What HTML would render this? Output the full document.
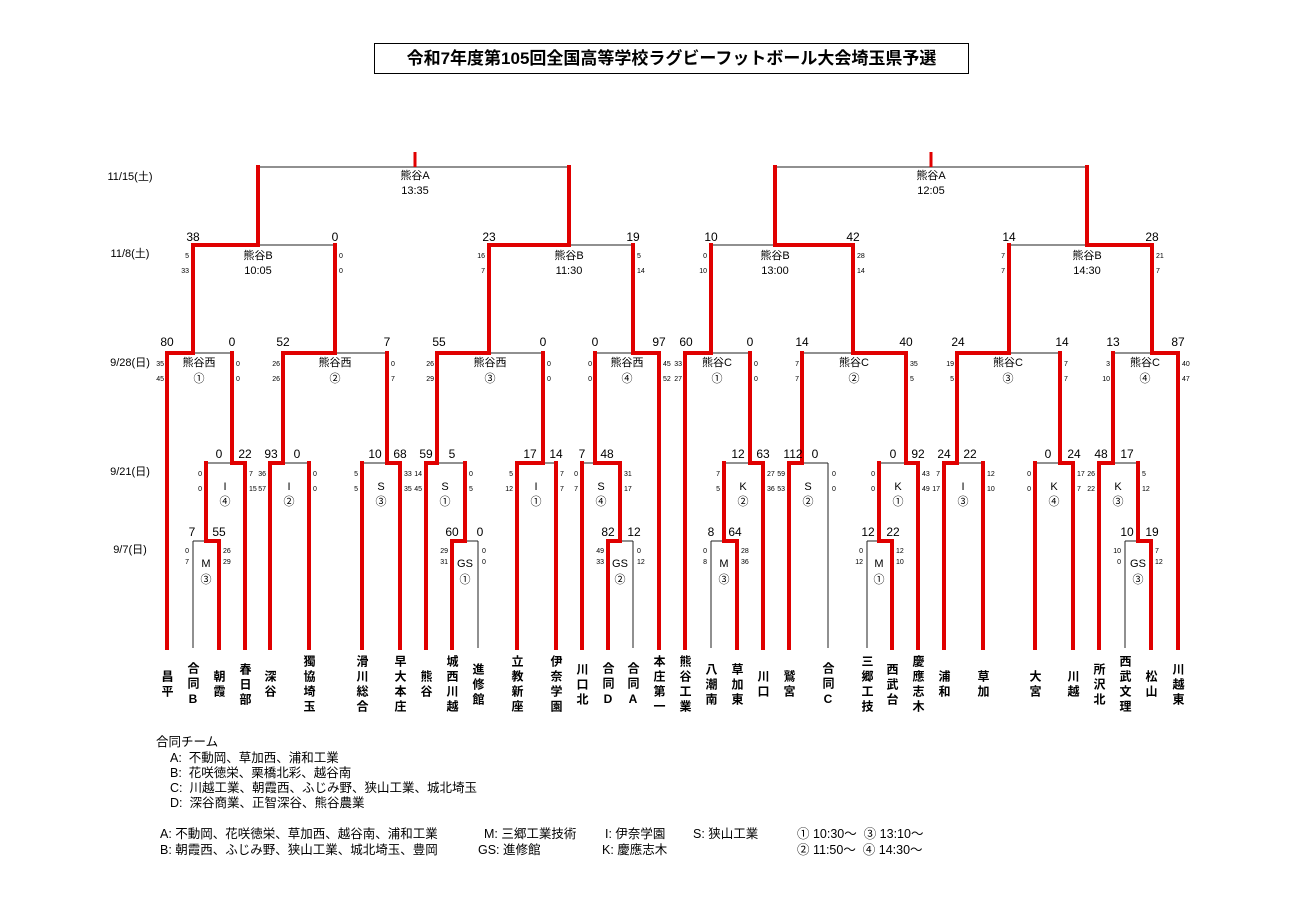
<!DOCTYPE html>
<html><head><meta charset="utf-8"><style>
html,body{margin:0;padding:0;background:#fff;}
body{width:1300px;height:919px;position:relative;overflow:hidden;font-family:"Liberation Sans","Noto Sans CJK JP",sans-serif;}
.title{position:absolute;left:374px;top:43px;width:595px;height:31px;border:1px solid #000;box-sizing:border-box;text-align:center;font-weight:bold;font-size:17px;line-height:29px;}
.leaf{position:absolute;top:652px;height:66px;width:16px;margin-left:-8px;writing-mode:vertical-rl;text-orientation:upright;display:flex;justify-content:center;align-items:center;font-weight:bold;font-size:12px;letter-spacing:3px;line-height:16px;}
.leg{position:absolute;font-size:12.5px;white-space:pre;line-height:14px;}
svg{position:absolute;left:0;top:0;}
svg text{font-family:"Liberation Sans","Noto Sans CJK JP",sans-serif;fill:#000;}
.s{font-size:12px;text-anchor:middle;}
.h{font-size:7px;}
.e{text-anchor:end;}
.m{font-size:11px;text-anchor:middle;}
.d{font-size:11px;text-anchor:middle;}
</style></head><body>
<div class="title">令和7年度第105回全国高等学校ラグビーフットボール大会埼玉県予選</div>
<svg width="1300" height="919" viewBox="0 0 1300 919">
<path fill="none" stroke="#222" stroke-width="1" d="M193 648V541 M478 648V541 M633 648V541 M711 648V541 M828 648V463 M867 648V541 M1125 648V541
M193 541H206 M465 541H478 M620 541H633 M711 541H724 M867 541H879 M1125 541H1138
M206 463H232 M283 463H309 M362 463H387 M437 463H465 M543 463H556 M582 463H595 M724 463H750 M802 463H828 M879 463H906 M957 463H983 M1035 463H1060 M1113 463H1138
M193 353H232 M335 353H387 M489 353H543 M595 353H633 M711 353H750 M802 353H853 M1009 353H1060 M1113 353H1152
M258 245H335 M569 245H633 M711 245H775 M1009 245H1087
M258 167H569 M775 167H1087"/>
<path fill="none" stroke="#e00000" stroke-width="4" stroke-linecap="square" stroke-linejoin="miter" d="M167 648V353 M219 648V541 M245 648V463 M270 648V463 M309 648V463 M362 648V463 M400 648V463 M426 648V463 M452 648V541 M517 648V463 M556 648V463 M582 648V463 M608 648V541 M659 648V353 M685 648V353 M737 648V541 M763 648V463 M789 648V463 M892 648V541 M918 648V463 M944 648V463 M983 648V463 M1035 648V463 M1073 648V463 M1099 648V463 M1151 648V541 M1178 648V353
M219 541H206V463 M452 541H465V463 M608 541H620V463 M737 541H724V463 M892 541H879V463 M1151 541H1138V463
M245 463H232V353 M270 463H283V353 M400 463H387V353 M426 463H437V353 M517 463H543V353 M620 463H595V353 M763 463H750V353 M789 463H802V353 M918 463H906V353 M944 463H957V353 M1073 463H1060V353 M1099 463H1113V353
M167 353H193V245 M283 353H335V245 M437 353H489V245 M659 353H633V245 M685 353H711V245 M906 353H853V245 M957 353H1009V245 M1178 353H1152V245
M193 245H258V167 M489 245H569V167 M853 245H775V167 M1152 245H1087V167"/>
<path fill="none" stroke="#e00000" stroke-width="3" d="M415 152V167 M931 152V167"/>

<text class="d" x="130" y="180">11/15(土)</text>
<text class="d" x="130" y="257">11/8(土)</text>
<text class="d" x="130" y="366">9/28(日)</text>
<text class="d" x="130" y="475">9/21(日)</text>
<text class="d" x="130" y="553">9/7(日)</text>

<text class="m" x="415" y="179">熊谷A</text><text class="m" x="415" y="194">13:35</text>
<text class="m" x="931" y="179">熊谷A</text><text class="m" x="931" y="194">12:05</text>
<text class="m" x="258" y="259">熊谷B</text><text class="m" x="258" y="274">10:05</text>
<text class="m" x="569" y="259">熊谷B</text><text class="m" x="569" y="274">11:30</text>
<text class="m" x="775" y="259">熊谷B</text><text class="m" x="775" y="274">13:00</text>
<text class="m" x="1087" y="259">熊谷B</text><text class="m" x="1087" y="274">14:30</text>
<text class="m" x="199" y="366">熊谷西</text><text class="m" x="199" y="382">①</text>
<text class="m" x="335" y="366">熊谷西</text><text class="m" x="335" y="382">②</text>
<text class="m" x="490" y="366">熊谷西</text><text class="m" x="490" y="382">③</text>
<text class="m" x="627" y="366">熊谷西</text><text class="m" x="627" y="382">④</text>
<text class="m" x="717" y="366">熊谷C</text><text class="m" x="717" y="382">①</text>
<text class="m" x="854" y="366">熊谷C</text><text class="m" x="854" y="382">②</text>
<text class="m" x="1008" y="366">熊谷C</text><text class="m" x="1008" y="382">③</text>
<text class="m" x="1145" y="366">熊谷C</text><text class="m" x="1145" y="382">④</text>
<text class="m" x="225" y="490">I</text><text class="m" x="225" y="505">④</text>
<text class="m" x="289" y="490">I</text><text class="m" x="289" y="505">②</text>
<text class="m" x="381" y="490">S</text><text class="m" x="381" y="505">③</text>
<text class="m" x="445" y="490">S</text><text class="m" x="445" y="505">①</text>
<text class="m" x="536" y="490">I</text><text class="m" x="536" y="505">①</text>
<text class="m" x="601" y="490">S</text><text class="m" x="601" y="505">④</text>
<text class="m" x="743" y="490">K</text><text class="m" x="743" y="505">②</text>
<text class="m" x="808" y="490">S</text><text class="m" x="808" y="505">②</text>
<text class="m" x="898" y="490">K</text><text class="m" x="898" y="505">①</text>
<text class="m" x="963" y="490">I</text><text class="m" x="963" y="505">③</text>
<text class="m" x="1054" y="490">K</text><text class="m" x="1054" y="505">④</text>
<text class="m" x="1118" y="490">K</text><text class="m" x="1118" y="505">③</text>
<text class="m" x="206" y="567">M</text><text class="m" x="206" y="583">③</text>
<text class="m" x="465" y="567">GS</text><text class="m" x="465" y="583">①</text>
<text class="m" x="620" y="567">GS</text><text class="m" x="620" y="583">②</text>
<text class="m" x="724" y="567">M</text><text class="m" x="724" y="583">③</text>
<text class="m" x="879" y="567">M</text><text class="m" x="879" y="583">①</text>
<text class="m" x="1138" y="567">GS</text><text class="m" x="1138" y="583">③</text>

<text class="s" x="193" y="241">38</text><text class="s" x="335" y="241">0</text>
<text class="s" x="489" y="241">23</text><text class="s" x="633" y="241">19</text>
<text class="s" x="711" y="241">10</text><text class="s" x="853" y="241">42</text>
<text class="s" x="1009" y="241">14</text><text class="s" x="1152" y="241">28</text>
<text class="s" x="167" y="346">80</text><text class="s" x="232" y="346">0</text>
<text class="s" x="283" y="346">52</text><text class="s" x="387" y="346">7</text>
<text class="s" x="439" y="346">55</text><text class="s" x="543" y="346">0</text>
<text class="s" x="595" y="346">0</text><text class="s" x="659" y="346">97</text>
<text class="s" x="686" y="346">60</text><text class="s" x="750" y="346">0</text>
<text class="s" x="802" y="346">14</text><text class="s" x="906" y="346">40</text>
<text class="s" x="958" y="346">24</text><text class="s" x="1062" y="346">14</text>
<text class="s" x="1113" y="346">13</text><text class="s" x="1178" y="346">87</text>
<text class="s" x="219" y="458">0</text><text class="s" x="245" y="458">22</text>
<text class="s" x="271" y="458">93</text><text class="s" x="297" y="458">0</text>
<text class="s" x="375" y="458">10</text><text class="s" x="400" y="458">68</text>
<text class="s" x="426" y="458">59</text><text class="s" x="452" y="458">5</text>
<text class="s" x="530" y="458">17</text><text class="s" x="556" y="458">14</text>
<text class="s" x="582" y="458">7</text><text class="s" x="607" y="458">48</text>
<text class="s" x="738" y="458">12</text><text class="s" x="763" y="458">63</text>
<text class="s" x="793" y="458">112</text><text class="s" x="815" y="458">0</text>
<text class="s" x="893" y="458">0</text><text class="s" x="918" y="458">92</text>
<text class="s" x="944" y="458">24</text><text class="s" x="970" y="458">22</text>
<text class="s" x="1048" y="458">0</text><text class="s" x="1074" y="458">24</text>
<text class="s" x="1101" y="458">48</text><text class="s" x="1127" y="458">17</text>
<text class="s" x="192" y="536">7</text><text class="s" x="219" y="536">55</text>
<text class="s" x="452" y="536">60</text><text class="s" x="480" y="536">0</text>
<text class="s" x="608" y="536">82</text><text class="s" x="634" y="536">12</text>
<text class="s" x="711" y="536">8</text><text class="s" x="735" y="536">64</text>
<text class="s" x="868" y="536">12</text><text class="s" x="893" y="536">22</text>
<text class="s" x="1127" y="536">10</text><text class="s" x="1152" y="536">19</text>

<text class="h e" x="189" y="258">5</text><text class="h e" x="189" y="273">33</text><text class="h" x="339" y="258">0</text><text class="h" x="339" y="273">0</text>
<text class="h e" x="485" y="258">16</text><text class="h e" x="485" y="273">7</text><text class="h" x="637" y="258">5</text><text class="h" x="637" y="273">14</text>
<text class="h e" x="707" y="258">0</text><text class="h e" x="707" y="273">10</text><text class="h" x="857" y="258">28</text><text class="h" x="857" y="273">14</text>
<text class="h e" x="1005" y="258">7</text><text class="h e" x="1005" y="273">7</text><text class="h" x="1156" y="258">21</text><text class="h" x="1156" y="273">7</text>
<text class="h e" x="164" y="366">35</text><text class="h e" x="164" y="381">45</text><text class="h" x="236" y="366">0</text><text class="h" x="236" y="381">0</text>
<text class="h e" x="280" y="366">26</text><text class="h e" x="280" y="381">26</text><text class="h" x="391" y="366">0</text><text class="h" x="391" y="381">7</text>
<text class="h e" x="434" y="366">26</text><text class="h e" x="434" y="381">29</text><text class="h" x="547" y="366">0</text><text class="h" x="547" y="381">0</text>
<text class="h e" x="592" y="366">0</text><text class="h e" x="592" y="381">0</text><text class="h" x="663" y="366">45</text><text class="h" x="663" y="381">52</text>
<text class="h e" x="682" y="366">33</text><text class="h e" x="682" y="381">27</text><text class="h" x="754" y="366">0</text><text class="h" x="754" y="381">0</text>
<text class="h e" x="799" y="366">7</text><text class="h e" x="799" y="381">7</text><text class="h" x="910" y="366">35</text><text class="h" x="910" y="381">5</text>
<text class="h e" x="954" y="366">19</text><text class="h e" x="954" y="381">5</text><text class="h" x="1064" y="366">7</text><text class="h" x="1064" y="381">7</text>
<text class="h e" x="1110" y="366">3</text><text class="h e" x="1110" y="381">10</text><text class="h" x="1182" y="366">40</text><text class="h" x="1182" y="381">47</text>
<text class="h e" x="202" y="476">0</text><text class="h e" x="202" y="491">0</text><text class="h" x="249" y="476">7</text><text class="h" x="249" y="491">15</text>
<text class="h e" x="266" y="476">36</text><text class="h e" x="266" y="491">57</text><text class="h" x="313" y="476">0</text><text class="h" x="313" y="491">0</text>
<text class="h e" x="358" y="476">5</text><text class="h e" x="358" y="491">5</text><text class="h" x="404" y="476">33</text><text class="h" x="404" y="491">35</text>
<text class="h e" x="422" y="476">14</text><text class="h e" x="422" y="491">45</text><text class="h" x="469" y="476">0</text><text class="h" x="469" y="491">5</text>
<text class="h e" x="513" y="476">5</text><text class="h e" x="513" y="491">12</text><text class="h" x="560" y="476">7</text><text class="h" x="560" y="491">7</text>
<text class="h e" x="578" y="476">0</text><text class="h e" x="578" y="491">7</text><text class="h" x="624" y="476">31</text><text class="h" x="624" y="491">17</text>
<text class="h e" x="720" y="476">7</text><text class="h e" x="720" y="491">5</text><text class="h" x="767" y="476">27</text><text class="h" x="767" y="491">36</text>
<text class="h e" x="785" y="476">59</text><text class="h e" x="785" y="491">53</text><text class="h" x="832" y="476">0</text><text class="h" x="832" y="491">0</text>
<text class="h e" x="875" y="476">0</text><text class="h e" x="875" y="491">0</text><text class="h" x="922" y="476">43</text><text class="h" x="922" y="491">49</text>
<text class="h e" x="940" y="476">7</text><text class="h e" x="940" y="491">17</text><text class="h" x="987" y="476">12</text><text class="h" x="987" y="491">10</text>
<text class="h e" x="1031" y="476">0</text><text class="h e" x="1031" y="491">0</text><text class="h" x="1077" y="476">17</text><text class="h" x="1077" y="491">7</text>
<text class="h e" x="1095" y="476">26</text><text class="h e" x="1095" y="491">22</text><text class="h" x="1142" y="476">5</text><text class="h" x="1142" y="491">12</text>
<text class="h e" x="189" y="553">0</text><text class="h e" x="189" y="564">7</text><text class="h" x="223" y="553">26</text><text class="h" x="223" y="564">29</text>
<text class="h e" x="448" y="553">29</text><text class="h e" x="448" y="564">31</text><text class="h" x="482" y="553">0</text><text class="h" x="482" y="564">0</text>
<text class="h e" x="604" y="553">49</text><text class="h e" x="604" y="564">33</text><text class="h" x="637" y="553">0</text><text class="h" x="637" y="564">12</text>
<text class="h e" x="707" y="553">0</text><text class="h e" x="707" y="564">8</text><text class="h" x="741" y="553">28</text><text class="h" x="741" y="564">36</text>
<text class="h e" x="863" y="553">0</text><text class="h e" x="863" y="564">12</text><text class="h" x="896" y="553">12</text><text class="h" x="896" y="564">10</text>
<text class="h e" x="1121" y="553">10</text><text class="h e" x="1121" y="564">0</text><text class="h" x="1155" y="553">7</text><text class="h" x="1155" y="564">12</text>
</svg>

<div class="leaf" style="left:167px">昌平</div>
<div class="leaf" style="left:193px">合同B</div>
<div class="leaf" style="left:219px">朝霞</div>
<div class="leaf" style="left:245px">春日部</div>
<div class="leaf" style="left:270px">深谷</div>
<div class="leaf" style="left:309px">獨協埼玉</div>
<div class="leaf" style="left:362px">滑川総合</div>
<div class="leaf" style="left:400px">早大本庄</div>
<div class="leaf" style="left:426px">熊谷</div>
<div class="leaf" style="left:452px">城西川越</div>
<div class="leaf" style="left:478px">進修館</div>
<div class="leaf" style="left:517px">立教新座</div>
<div class="leaf" style="left:556px">伊奈学園</div>
<div class="leaf" style="left:582px">川口北</div>
<div class="leaf" style="left:608px">合同D</div>
<div class="leaf" style="left:633px">合同A</div>
<div class="leaf" style="left:659px">本庄第一</div>
<div class="leaf" style="left:685px">熊谷工業</div>
<div class="leaf" style="left:711px">八潮南</div>
<div class="leaf" style="left:737px">草加東</div>
<div class="leaf" style="left:763px">川口</div>
<div class="leaf" style="left:789px">鷲宮</div>
<div class="leaf" style="left:828px">合同C</div>
<div class="leaf" style="left:867px">三郷工技</div>
<div class="leaf" style="left:892px">西武台</div>
<div class="leaf" style="left:918px">慶應志木</div>
<div class="leaf" style="left:944px">浦和</div>
<div class="leaf" style="left:983px">草加</div>
<div class="leaf" style="left:1035px">大宮</div>
<div class="leaf" style="left:1073px">川越</div>
<div class="leaf" style="left:1099px">所沢北</div>
<div class="leaf" style="left:1125px">西武文理</div>
<div class="leaf" style="left:1151px">松山</div>
<div class="leaf" style="left:1178px">川越東</div>

<div class="leg" style="left:156px;top:735px">合同チーム</div>
<div class="leg" style="left:170px;top:751px">A:  不動岡、草加西、浦和工業</div>
<div class="leg" style="left:170px;top:766px">B:  花咲徳栄、栗橋北彩、越谷南</div>
<div class="leg" style="left:170px;top:781px">C:  川越工業、朝霞西、ふじみ野、狭山工業、城北埼玉</div>
<div class="leg" style="left:170px;top:796px">D:  深谷商業、正智深谷、熊谷農業</div>
<div class="leg" style="left:160px;top:827px">A: 不動岡、花咲徳栄、草加西、越谷南、浦和工業</div>
<div class="leg" style="left:160px;top:843px">B: 朝霞西、ふじみ野、狭山工業、城北埼玉、豊岡</div>
<div class="leg" style="left:484px;top:827px">M: 三郷工業技術</div>
<div class="leg" style="left:478px;top:843px">GS: 進修館</div>
<div class="leg" style="left:605px;top:827px">I: 伊奈学園</div>
<div class="leg" style="left:602px;top:843px">K: 慶應志木</div>
<div class="leg" style="left:693px;top:827px">S: 狭山工業</div>
<div class="leg" style="left:797px;top:827px">① 10:30～  ③ 13:10～</div>
<div class="leg" style="left:797px;top:843px">② 11:50～  ④ 14:30～</div>
</body></html>
